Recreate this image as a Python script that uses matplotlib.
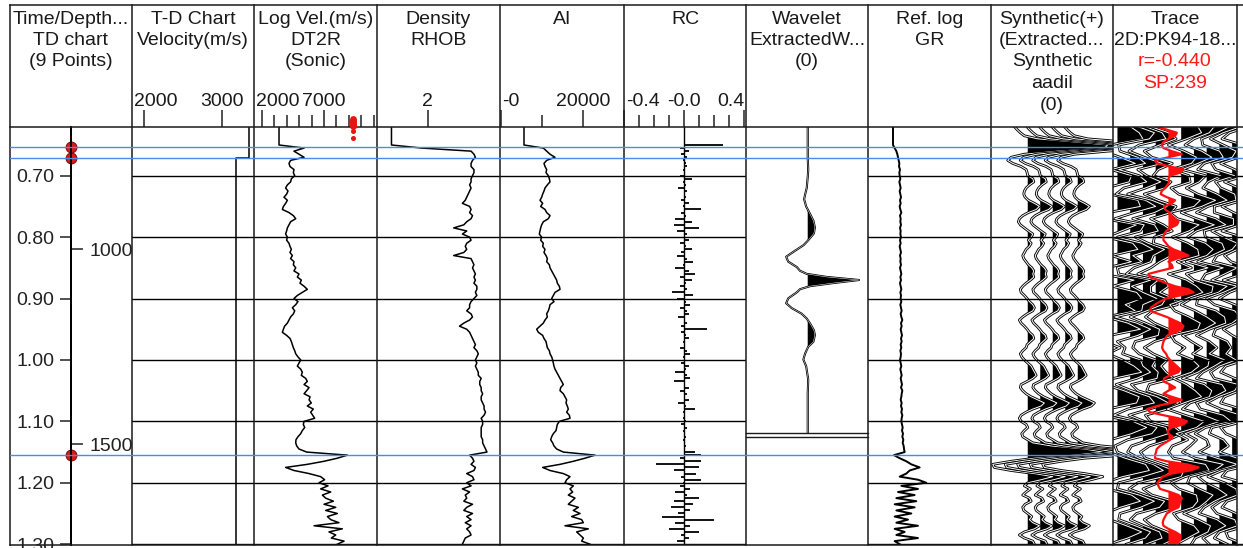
import numpy as np
import matplotlib
matplotlib.use("Agg")
import matplotlib.pyplot as plt
from matplotlib.ticker import FixedLocator

plt.rcParams['font.family'] = ['Liberation Sans', 'DejaVu Sans']
FS = 14

# ============================ DATA ============================
# log sampling grid (s)
LOG_T = np.round(np.arange(0.620, 1.3001, 0.005), 3)

SONIC_VEL = [3390, 3390, 3390, 3390, 3390, 3390, 3390, 5400, 4590, 4990,
             5400, 4320, 4190, 4270, 4590, 4540, 4650, 4380, 4320, 4060,
             3920, 4110, 4000, 3790, 4060, 3920, 3740, 3660, 4190, 4540,
             4730, 4320, 4190, 4060, 4000, 3920, 4060, 4000, 4190, 4270,
             4380, 4270, 4460, 4320, 4590, 4540, 4730, 4590, 4990, 4860,
             5180, 5070, 5400, 5660, 5260, 4860, 4590, 4910, 4730, 4460,
             4650, 4540, 4320, 4190, 4060, 3840, 3740, 3660, 4000, 4270,
             4380, 4460, 4540, 4650, 4730, 4910, 5130, 4990, 4860, 5130,
             5260, 5180, 5530, 5660, 5400, 5800, 5610, 5400, 5880, 5800,
             5980, 5660, 6140, 5930, 6090, 6250, 5400, 5340, 5450, 5260,
             5130, 4910, 4750, 4730, 4810, 4990, 5610, 8870, 8070, 7000,
             5660, 3920, 4590, 5800, 6730, 7050, 6600, 7320, 6730, 7540,
             6870, 7130, 7750, 7000, 7940, 7130, 8070, 7270, 7540, 8200,
             6200, 8470, 7400, 7940, 7590, 8610, 8070]

DENSITY = [1.75, 1.75, 1.75, 1.75, 1.75, 1.75, 1.75, 1.96, 2.30, 2.32,
           2.33, 2.31, 2.30, 2.30, 2.32, 2.32, 2.31, 2.30, 2.30, 2.29,
           2.30, 2.29, 2.28, 2.27, 2.26, 2.24, 2.29, 2.30, 2.29, 2.31,
           2.30, 2.27, 2.25, 2.18, 2.27, 2.24, 2.29, 2.30, 2.27, 2.26,
           2.27, 2.25, 2.18, 2.30, 2.31, 2.32, 2.31, 2.32, 2.33, 2.32,
           2.33, 2.32, 2.34, 2.34, 2.33, 2.34, 2.32, 2.30, 2.29, 2.29,
           2.27, 2.30, 2.31, 2.29, 2.25, 2.22, 2.27, 2.29, 2.30, 2.31,
           2.32, 2.33, 2.32, 2.34, 2.35, 2.34, 2.33, 2.34, 2.33, 2.34,
           2.35, 2.35, 2.37, 2.36, 2.36, 2.37, 2.37, 2.38, 2.37, 2.37,
           2.38, 2.39, 2.39, 2.40, 2.39, 2.37, 2.38, 2.38, 2.37, 2.37,
           2.37, 2.37, 2.38, 2.38, 2.39, 2.40, 2.41, 2.29, 2.31, 2.32,
           2.30, 2.33, 2.32, 2.27, 2.31, 2.32, 2.27, 2.30, 2.24, 2.29,
           2.26, 2.27, 2.25, 2.31, 2.27, 2.25, 2.31, 2.27, 2.30, 2.26,
           2.30, 2.27, 2.29, 2.30, 2.26, 2.25, 2.24]

AI = [5640, 5640, 5640, 5640, 5640, 5640, 5640, 10320, 11130, 11940,
      13150, 11130, 10480, 10730, 11130, 10970, 11530, 11780, 11940, 11290,
      10730, 10480, 10160, 9920, 9520, 10160, 9680, 10730, 11130, 11940,
      11530, 10320, 9920, 9680, 9520, 9350, 9920, 9680, 10320, 10160,
      10730, 10480, 10970, 11290, 11130, 11780, 11940, 12340, 12740, 13150,
      13550, 13710, 14200, 14360, 13150, 12740, 12340, 12900, 11940, 11780,
      11530, 11130, 11290, 10730, 10320, 9520, 8710, 9110, 10160, 10480,
      10970, 11130, 11290, 11780, 11940, 12340, 12580, 12740, 12900, 13150,
      13550, 13950, 14360, 14760, 15160, 14520, 14360, 15160, 15570, 15970,
      15810, 16130, 16370, 15970, 16620, 16780, 14200, 13710, 13550, 13390,
      12740, 12340, 12100, 12580, 12900, 13550, 15160, 22830, 20410, 17590,
      14360, 10160, 11940, 15160, 16780, 15970, 15570, 17590, 16780, 17420,
      16370, 17990, 17180, 16370, 18800, 17590, 19200, 17180, 19600, 20010,
      15570, 21220, 18390, 19200, 20010, 19600, 21620]

RC = [0.00, 0.00, 0.00, 0.00, 0.00, 0.00, 0.26, -0.03, 0.03, -0.02,
      0.02, -0.01, 0.01, 0.02, -0.01, 0.00, -0.03, 0.05, -0.01, 0.01,
      -0.04, 0.02, 0.00, 0.01, -0.02, 0.03, -0.01, 0.11, -0.02, 0.01,
      -0.06, 0.05, -0.07, 0.10, -0.05, 0.02, 0.00, 0.03, -0.03, 0.01,
      0.05, -0.02, -0.05, 0.02, 0.06, -0.01, -0.06, 0.03, 0.07, -0.03,
      0.05, 0.01, -0.03, 0.02, -0.08, 0.06, -0.05, 0.01, 0.04, -0.03,
      0.02, 0.03, -0.04, 0.00, 0.02, -0.02, 0.15, -0.02, 0.01, 0.03,
      -0.01, 0.00, -0.03, 0.02, 0.04, -0.01, 0.00, -0.02, 0.03, 0.01,
      -0.06, 0.02, 0.04, -0.07, 0.00, 0.03, -0.03, 0.02, 0.00, 0.03,
      -0.04, 0.01, 0.07, -0.01, 0.00, -0.01, 0.01, -0.02, 0.02, -0.01,
      0.00, 0.01, -0.01, 0.00, 0.01, 0.00, 0.07, 0.11, -0.03, 0.11,
      -0.19, 0.10, -0.07, 0.08, -0.02, 0.11, -0.01, -0.03, 0.04, -0.06,
      0.02, 0.10, -0.07, 0.06, -0.09, 0.04, -0.04, -0.15, 0.20, -0.06,
      0.04, -0.10, 0.10, -0.02, 0.03, -0.05, 0.00]

GR = [75, 75, 75, 75, 75, 75, 75, 80, 85, 88,
      90, 92, 94, 93, 96, 94, 95, 97, 94, 96,
      98, 95, 97, 99, 96, 98, 95, 97, 100, 96,
      98, 97, 99, 96, 98, 97, 99, 96, 98, 95,
      97, 99, 96, 98, 97, 99, 96, 98, 100, 97,
      99, 96, 98, 100, 97, 99, 98, 100, 97, 99,
      101, 98, 100, 103, 99, 101, 98, 100, 102, 99,
      101, 98, 100, 97, 99, 98, 96, 98, 100, 97,
      99, 101, 98, 100, 102, 99, 103, 101, 100, 98,
      101, 99, 102, 100, 103, 101, 100, 102, 104, 102,
      105, 103, 106, 104, 107, 108, 110, 78, 95, 115,
      130, 155, 125, 115, 95, 150, 175, 100, 150, 90,
      140, 85, 145, 80, 140, 85, 130, 80, 120, 85,
      150, 80, 110, 85, 150, 80, 95]

SYNTH = [-1.07, -0.85, -0.59, -0.27, 0.80, 3.73, 6.40, 6.13, 2.40, -0.27,
         -1.33, -1.60, -1.20, -0.53, -0.13, -0.05, 0.00, 0.40, 0.48, 0.13,
         -0.13, -0.27, -0.32, -0.21, 0.05, 0.53, 0.93, 0.67, 0.05, -0.40,
         -0.67, -0.75, -0.59, -0.27, 0.05, 0.40, 0.27, 0.05, 0.27, 0.13,
         -0.13, -0.27, -0.40, -0.32, -0.13, 0.05, 0.32, 0.48, 0.40, 0.48,
         0.21, -0.13, -0.40, -0.59, -0.53, -0.27, -0.05, 0.13, 0.40, 0.53,
         0.40, -0.05, -0.40, -0.67, -0.53, -0.27, -0.05, 0.13, 0.40, 0.48,
         0.21, -0.05, -0.13, -0.40, -0.59, -0.48, -0.27, 0.00, 0.27, 0.40,
         0.53, 0.67, 0.40, -0.05, -0.53, -0.59, -0.40, -0.13, 0.27, 0.80,
         1.33, 1.07, 0.40, -0.13, -0.53, -0.67, -0.53, -0.13, 0.00, -0.27,
         -0.48, -0.40, 0.00, 0.40, 1.87, 4.53, 6.00, 3.73, 0.53, -1.33,
         -2.80, -2.67, -1.33, 0.53, 2.00, 1.07, 0.00, -0.27, 0.21, -0.13,
         -0.40, 0.13, 0.27, -0.21, -0.40, -0.32, 0.00, 0.32, 0.13, 0.40,
         0.93, 0.53, -0.27, -0.67, -0.27, 0.40, 0.53]
SYNTH_COPIES = 5

RED_TRACE = [-0.92, -0.13, 0.66, 0.53, 0.00, -0.39, -0.53, -0.39, 0.26, 1.05,
             0.00, -1.05, -0.92, 0.13, 1.18, 0.92, 0.13, 0.00, 0.08, -0.08,
             -0.26, -0.53, -0.61, -0.13, 0.53, 0.26, -0.34, -0.26, 0.08, 0.26,
             0.53, 0.79, 0.66, 0.18, -0.18, -0.34, -0.39, -0.39, -0.18, 0.00,
             0.39, 1.05, 1.58, 0.66, 0.00, 0.26, 0.34, -0.66, -1.58, -1.45,
             -0.79, -0.18, 0.53, 1.58, 1.97, 0.92, -0.18, -0.66, -1.05, -1.39,
             -1.45, -0.79, -0.13, 0.39, 0.92, 1.18, 1.05, 0.53, -0.08, -0.26,
             -0.39, -0.45, -0.50, -0.39, -0.18, -0.08, 0.13, 0.39, 0.66, 0.92,
             0.79, 0.13, -0.34, -0.39, 0.13, 0.53, 0.00, -0.39, 0.26, 1.05,
             0.26, -0.92, -1.66, -1.45, -0.39, 0.79, 1.45, 1.18, 0.26, -0.08,
             0.00, 0.34, 0.13, -0.26, -0.66, -0.92, -0.97, -1.05, -1.05, -0.13,
             1.45, 2.37, 1.71, 0.26, -0.45, -0.66, -0.87, -0.79, -0.66, 0.13,
             0.79, 1.05, 0.92, 0.87, 0.79, 0.26, -0.13, -0.26, -0.39, -0.45,
             -0.39, 0.00, 0.53, 0.92, 0.92, 0.87, 0.66]
RED_INDEX = 4

# neighbouring seismic traces, 10 ms samples
SEIS_T = np.round(np.arange(0.62, 1.3001, 0.01), 2)
SEIS_L4 = [1.0, 1.7, 2.0, -0.6, -1.1, 0.2, 1.4, -0.5, 1.1, 0.9,
           -0.9, -0.6, 1.6, 1.8, -0.7, -1.0, 1.5, 0.3, -0.9, 1.2,
           1.6, -0.5, 1.1, -0.8, -1.2, 1.3, -0.4, 1.5, 1.9, 0.6,
           1.4, -0.9, 0.8, 1.8, -0.6, -1.1, 0.2, -0.8, 0.4, 1.3,
           1.9, -0.3, -1.0, 0.5, 1.7, 1.5, -0.8, -1.2, 1.2, 2.3,
           1.1, -0.6, -1.3, -0.7, 0.6, 2.2, 2.5, 0.4, -1.1, -0.8,
           1.1, 1.8, 0.2, -1.0, -0.6, 0.7, 1.9, 0.8, -0.7]
SEIS_L3 = [0.6, 1.9, 1.5, -0.9, -0.8, 0.6, 1.2, -0.9, 0.7, 1.3,
           -0.5, -1.1, 1.2, 2.0, 0.3, -1.2, 1.1, 0.8, -1.0, 0.9,
           1.8, 0.2, 0.9, -1.0, -0.9, 1.6, 0.1, 1.0, 2.1, 1.0,
           0.9, -1.2, 0.5, 1.6, 0.6, -1.0, -0.4, -0.6, 0.8, 1.0,
           1.6, 0.5, -1.1, 0.1, 1.5, 1.9, -0.2, -1.3, 0.7, 2.1,
           1.7, -0.2, -1.2, -1.0, 0.2, 1.8, 2.6, 1.0, -0.9, -1.0,
           0.7, 1.9, 0.8, -0.8, -0.9, 0.4, 1.6, 1.2, -0.3]
SEIS_L2 = [0.2, 1.5, 1.8, -0.3, -1.1, 0.1, 1.5, -0.4, 0.3, 1.4,
           0.2, -1.2, 0.7, 1.9, 0.9, -0.8, 0.9, 1.2, -0.6, 0.4,
           1.7, 0.8, 0.6, -0.7, -1.3, 1.2, 0.6, 0.6, 1.8, 1.5,
           0.3, -1.0, 0.2, 1.3, 1.2, -0.6, -0.8, -0.3, 1.0, 0.7,
           1.2, 1.1, -0.9, -0.4, 1.1, 2.0, 0.5, -1.1, 0.1, 1.8,
           2.0, 0.5, -0.9, -1.2, -0.3, 1.2, 2.4, 1.6, -0.4, -1.1,
           0.2, 1.7, 1.3, -0.5, -1.0, 0.1, 1.3, 1.5, 0.2]
SEIS_L1 = [-0.4, 1.0, 1.6, 0.3, -0.9, -0.3, 1.3, 0.2, -0.2, 1.2,
           0.7, -0.9, 0.2, 1.6, 1.2, -0.4, 0.6, 1.3, -0.1, -0.2,
           1.3, 1.2, 0.3, -0.4, -1.4, 0.7, 1.0, 0.3, 1.4, 1.7,
           -0.2, -0.8, -0.1, 1.0, 1.5, -0.1, -0.9, -0.2, 0.9, 0.4,
           0.8, 1.4, -0.5, -0.7, 0.7, 1.8, 0.9, -0.8, -0.4, 1.5,
           2.1, 1.0, -0.5, -1.2, -0.8, 0.6, 2.2, 2.0, 0.2, -1.0,
           -0.3, 1.4, 1.6, 0.0, -0.9, -0.3, 0.9, 1.6, 0.6]
SEIS_R1 = [1.3, 1.6, 0.4, -1.0, 0.2, 1.2, 0.8, -0.8, 0.6, 0.7,
           -0.8, -0.2, 1.5, 1.0, -0.9, -0.3, 1.4, 0.6, -0.7, 0.5,
           1.3, 1.4, -0.3, 0.8, -1.0, 0.4, 1.2, 1.7, 0.4, -0.9,
           -0.5, 0.6, 1.5, 1.3, -0.8, -0.5, 0.3, -0.3, 0.9, 1.4,
           0.8, -0.6, 0.4, 1.1, 1.6, 0.2, -1.1, 0.3, 1.8, 1.2,
           -0.4, 0.5, -0.7, -1.0, -0.6, 1.9, 2.2, 0.3, -0.8, -0.2,
           1.2, 1.3, 0.9, -0.6, -0.2, 1.0, 1.4, 0.5, -0.4]
SEIS_R2 = [1.6, 1.2, 0.0, -0.7, 0.6, 1.4, 0.3, -0.9, 0.9, 0.4,
           -0.6, 0.3, 1.7, 0.6, -1.0, 0.2, 1.6, 0.2, -0.5, 0.9,
           1.5, 1.0, -0.6, 1.1, -0.6, 0.0, 1.5, 1.4, -0.2, -1.0,
           0.1, 1.0, 1.7, 0.8, -0.9, -0.2, 0.6, -0.1, 1.2, 1.1,
           0.3, -0.9, 0.8, 1.4, 1.2, -0.3, -0.9, 0.8, 2.0, 0.6,
           -0.7, 0.2, -0.3, -0.9, 0.1, 2.3, 1.6, -0.3, -0.5, 0.4,
           1.5, 1.0, 0.4, -0.8, 0.3, 1.3, 1.1, 0.1, -0.2]
SEIS_R3 = [1.8, 0.8, -0.4, -0.3, 1.0, 1.3, -0.2, -0.7, 1.1, 0.1,
           -0.3, 0.8, 1.6, 0.1, -0.8, 0.7, 1.5, -0.2, -0.1, 1.2,
           1.4, 0.4, -0.7, 1.3, -0.1, -0.4, 1.6, 0.9, -0.7, -0.8,
           0.7, 1.4, 1.5, 0.2, -0.8, 0.2, 0.8, 0.2, 1.4, 0.6,
           -0.3, -0.8, 1.2, 1.5, 0.6, -0.8, -0.5, 1.3, 1.9, -0.1,
           -0.9, 0.0, 0.2, -0.6, 0.8, 2.4, 0.9, -0.7, -0.1, 0.9,
           1.6, 0.6, -0.2, -0.6, 0.8, 1.5, 0.6, -0.3, 0.2]
SEIS_R4 = [1.7, 0.3, -0.7, 0.3, 1.3, 1.0, -0.6, -0.3, 1.2, -0.3,
           0.1, 1.2, 1.3, -0.4, -0.4, 1.1, 1.1, -0.6, 0.3, 1.4,
           1.0, -0.2, -0.5, 1.4, 0.4, -0.6, 1.4, 0.3, -1.0, -0.4,
           1.2, 1.6, 1.0, -0.3, -0.5, 0.6, 0.9, 0.5, 1.3, 0.0,
           -0.7, -0.4, 1.5, 1.2, -0.1, -1.0, 0.1, 1.7, 1.5, -0.6,
           -0.8, 0.3, 0.7, 0.0, 1.4, 2.2, 0.2, -0.9, 0.4, 1.3,
           1.4, 0.1, -0.6, -0.2, 1.2, 1.4, 0.0, -0.4, 0.6]
SEIS_R5 = [1.3, -0.2, -0.8, 0.8, 1.5, 0.5, -0.9, 0.2, 1.1, -0.6,
           0.5, 1.4, 0.8, -0.8, 0.1, 1.4, 0.6, -0.8, 0.8, 1.3,
           0.4, -0.6, -0.1, 1.3, 0.8, -0.7, 1.0, -0.2, -1.0, 0.2,
           1.5, 1.5, 0.3, -0.7, 0.0, 0.9, 0.8, 0.8, 1.0, -0.5,
           -0.9, 0.2, 1.6, 0.6, -0.6, -0.9, 0.7, 1.8, 0.9, -0.9,
           -0.5, 0.6, 1.1, 0.6, 1.8, 1.6, -0.4, -0.8, 0.9, 1.5,
           1.0, -0.4, -0.8, 0.3, 1.5, 1.1, -0.5, -0.3, 0.9]
SEIS_TRACES = {0: SEIS_L4, 1: SEIS_L3, 2: SEIS_L2, 3: SEIS_L1,
               5: SEIS_R1, 6: SEIS_R2, 7: SEIS_R3, 8: SEIS_R4, 9: SEIS_R5}

# extracted wavelet (ms, normalised amplitude)
WAVELET_MS = [-250, -200, -180, -168, -150, -140, -132, -120, -108, -97, -86,
              -76, -65, -57, -46, -38, -30, -21, -15, -10, -5, 0, 5, 10, 15,
              20, 30, 38, 46, 55, 63, 71, 82, 90, 101, 109, 120, 130, 141,
              163, 185, 212, 250]
WAVELET_AMP = [0.0, 0.0, 0.01, 0.0, -0.02, -0.05, -0.07, -0.03, 0.045, 0.11,
               0.14, 0.12, 0.01, -0.08, -0.28, -0.42, -0.38, -0.21, -0.15,
               -0.02, 0.37, 1.0, 0.5, 0.05, -0.15, -0.21, -0.38, -0.42, -0.31,
               -0.12, -0.02, 0.045, 0.12, 0.14, 0.11, 0.01, -0.05, -0.085,
               -0.03, 0.01, 0.0, 0.0, 0.0]

# time-depth chart
TD_TIMES = [0.6533, 0.6712, 1.1554]
TD_VEL_EDGES = [0.60, 0.6712, 1.32]
TD_VEL = [3346, 3179]
DEPTH_TICK_T = [0.8199, 1.1370]
DEPTH_TICK_LBL = ['1000', '1500']
TIME_TICKS = [0.70, 0.80, 0.90, 1.00, 1.10, 1.20, 1.30]
TIME_LABELS = ['0.70', '0.80', '0.90', '1.00', '1.10', '1.20', '1.30']

HEADERS = [["Time/Depth...", "TD chart", "(9 Points)"],
           ["T-D Chart", "Velocity(m/s)"],
           ["Log Vel.(m/s)", "DT2R", "(Sonic)"],
           ["Density", "RHOB"],
           ["AI"],
           ["RC"],
           ["Wavelet", "ExtractedW...", "(0)"],
           ["Ref. log", "GR"],
           ["Synthetic(+)", "(Extracted...", "Synthetic", "aadil", "(0)"],
           ["Trace", "2D:PK94-18...", "r=-0.440", "SP:239"]]
RED_HEADER = {(9, 2), (9, 3)}

# header scales: col -> (xlim, major ticks, labels, minor ticks)
SCALES = {1: ((1846, 3410), [2000, 3000], ['2000', '3000'], []),
          2: ((1382, 11253), [2000, 7000], ['2000', '7000'],
              [3000, 4000, 5000, 6000, 8000, 9000, 10000, 11000]),
          3: ((1.65, 2.50), [2.0], ['2'], []),
          4: ((-170, 29855), [0, 20000], ['-0', '20000'], [10000]),
          5: ((-0.4, 0.4133), [-0.4, 0.0, 0.4], ['-0.4', '-0.0', '0.4'],
              [-0.3, -0.2, -0.1, 0.1, 0.2, 0.3])}

for arr in (SONIC_VEL, DENSITY, AI, RC, GR, SYNTH, RED_TRACE):
    assert len(arr) == len(LOG_T), len(arr)
for arr in SEIS_TRACES.values():
    assert len(arr) == len(SEIS_T), len(arr)

# ============================ LAYOUT ============================
W, H = 1243, 548
COL_X = [10, 132, 254, 377, 500, 624, 746, 868, 991, 1113, 1237, 1243]
Y_TOP, Y_HDR, Y_BOT = 4.5, 127.0, 544.5
T_TOP, T_BOT = 0.6207, 1.3005
LINE_C = '#1a1a1a'
BLUE = '#4a8be6'

fig = plt.figure(figsize=(W / 100, H / 100), dpi=100)


def px_axes(x0, x1, y0, y1, **kw):
    return fig.add_axes([x0 / W, 1 - y1 / H, (x1 - x0) / W, (y1 - y0) / H], **kw)


def track(i, grid=True):
    ax = px_axes(COL_X[i], COL_X[i + 1], Y_HDR, Y_BOT)
    ax.set_ylim(T_BOT, T_TOP)
    for s in ax.spines.values():
        s.set_visible(False)
    ax.patch.set_visible(False)
    ax.yaxis.set_major_locator(FixedLocator(TIME_TICKS))
    ax.tick_params(axis='y', which='both', length=0, labelleft=False)
    ax.tick_params(axis='x', which='both', bottom=False, labelbottom=False,
                   top=False, labeltop=False)
    if grid:
        ax.set_axisbelow(False)
        ax.grid(axis='y', color='black', lw=1.0)
    return ax


def wiggle(ax, t, amp, base, lw_out=2.0, lw_in=0.7):
    x = base + np.asarray(amp, dtype=float)
    ax.fill_betweenx(t, base, x, where=x > base, interpolate=True,
                     color='black', lw=0)
    ax.plot(x, t, color='black', lw=lw_out, solid_joinstyle='round')
    if lw_in > 0:
        ax.plot(x, t, color='white', lw=lw_in, solid_joinstyle='round')


# ---- column 1 : time / depth axis
ax1 = px_axes(COL_X[0], COL_X[1], Y_HDR, Y_BOT)
ax1.set_xlim(0, 1)
ax1.set_ylim(T_BOT, T_TOP)
ax1.patch.set_visible(False)
for k, s in ax1.spines.items():
    s.set_visible(k == 'left')
ax1.spines['left'].set_position(('data', 0.5))
ax1.spines['left'].set_linewidth(1.4)
ax1.set_xticks([])
ax1.set_yticks(TIME_TICKS, labels=TIME_LABELS)
ax1.tick_params(axis='y', direction='out', length=8.2, width=1.1, pad=4.0,
                labelsize=FS, colors='#222222')
tw = ax1.twinx()
tw.set_ylim(T_BOT, T_TOP)
for k, s in tw.spines.items():
    s.set_visible(k == 'right')
tw.spines['right'].set_position(('data', 0.5))
tw.spines['right'].set_linewidth(1.4)
tw.set_yticks(DEPTH_TICK_T, labels=DEPTH_TICK_LBL)
tw.tick_params(axis='y', direction='out', length=8.5, width=1.1, pad=4.5,
               labelsize=FS, colors='#222222')
ax1.scatter([0.5] * len(TD_TIMES), TD_TIMES, s=60, color='#e01818',
            edgecolor='#8a0c0c', lw=0.8, zorder=5, clip_on=False)

# ---- data tracks
axes = {}
for i in range(1, 11):
    axes[i] = track(i, grid=(i != 6))
for i, (xl, maj, lab, mnr) in SCALES.items():
    ax = axes[i]
    ax.set_xlim(*xl)
    ax.xaxis.set_major_locator(FixedLocator(maj))
    ax.xaxis.set_minor_locator(FixedLocator(mnr))
    ax.tick_params(axis='x', which='both', top=True, direction='out',
                   labeltop=False, width=1.1, color='#222222')
    ax.tick_params(axis='x', which='major', length=12.2)
    ax.tick_params(axis='x', which='minor', length=8.6)

# T-D interval velocity
vx = np.repeat(TD_VEL, 2)
vy = np.repeat(TD_VEL_EDGES, 2)[1:-1]
axes[1].plot(vx, vy, color='black', lw=1.1)
# logs
axes[2].plot(SONIC_VEL, LOG_T, color='black', lw=1.1)
axes[3].plot(DENSITY, LOG_T, color='black', lw=1.1)
axes[4].plot(AI, LOG_T, color='black', lw=1.1)
# reflection coefficients as spikes off a zero line
axes[5].axvline(0.0, color='black', lw=1.0)
axes[5].hlines(LOG_T, 0.0, RC, color='black', lw=1.3)
axes[7].set_xlim(0, 369)
axes[7].plot(GR, LOG_T, color='black', lw=1.4)

# wavelet
axw = px_axes(COL_X[6], COL_X[7], Y_HDR, 433)
axw.set_xlim(-1.203, 1.175)
axw.set_ylim(250, -250)
axw.axis('off')
wiggle(axw, WAVELET_MS, WAVELET_AMP, 0.0, lw_out=1.5, lw_in=0.35)

# synthetic
axs = axes[8]
axs.set_xlim(-2.94, 6.82)
for k in range(SYNTH_COPIES):
    wiggle(axs, LOG_T, SYNTH, k, lw_out=2.0, lw_in=0.7)

# seismic trace
axt = axes[9]
axt.set_xlim(-0.35, 9.38)
for k in sorted(SEIS_TRACES):
    wiggle(axt, SEIS_T, SEIS_TRACES[k], k, lw_out=2.0, lw_in=0.7)
red_x = RED_INDEX + np.asarray(RED_TRACE)
axt.fill_betweenx(LOG_T, RED_INDEX, red_x, where=red_x > RED_INDEX,
                  interpolate=True, color='#ff1010', lw=0, zorder=3)
axt.plot(red_x, LOG_T, color='#ff1010', lw=1.6, zorder=3)

# ---- blue tie lines across all tracks
axb = px_axes(COL_X[0], W, Y_HDR, Y_BOT, zorder=6)
axb.set_ylim(T_BOT, T_TOP)
axb.axis('off')
for t in TD_TIMES:
    axb.axhline(t, color=BLUE, lw=1.0)

# ---- pixel overlay : frame, headers
axp = fig.add_axes([0, 0, 1, 1], zorder=5)
axp.set_xlim(0, W)
axp.set_ylim(H, 0)
axp.axis('off')
for yy in (Y_TOP, Y_HDR, Y_BOT):
    axp.plot([COL_X[0], W], [yy, yy], color=LINE_C, lw=1.1)
for xx in COL_X[:-1]:
    axp.plot([xx, xx], [Y_TOP, Y_BOT], color=LINE_C, lw=1.1)
# wavelet box bottom double line
axp.plot([COL_X[6], COL_X[7]], [433, 433], color=LINE_C, lw=1.0)
axp.plot([COL_X[6], COL_X[7]], [437, 437], color=LINE_C, lw=1.0)
# red handle in sonic header
axp.plot([353.5, 353.5], [118.5, 126], color='#e81414', lw=5,
         solid_capstyle='round')
axp.plot([353.5, 353.5], [131, 137.5], 'o', color='#e81414', ms=2.6)

BASE0, LSTEP = 23.5, 21.5
for i, lines in enumerate(HEADERS):
    cx = (COL_X[i] + COL_X[i + 1]) / 2
    for j, s in enumerate(lines):
        axp.text(cx, BASE0 + j * LSTEP, s, ha='center', va='baseline',
                 fontsize=FS, color='#ff1a1a' if (i, j) in RED_HEADER else '#1a1a1a')

# header scale labels (centred on tick, kept inside their column)
scale_texts = []
for i, (xl, maj, lab, mnr) in SCALES.items():
    ax = axes[i]
    for v, s in zip(maj, lab):
        xd = ax.transData.transform((v, T_TOP))[0]
        t = axp.text(xd, 106, s, ha='center', va='baseline', fontsize=FS,
                     color='#1a1a1a')
        scale_texts.append((t, COL_X[i], COL_X[i + 1]))

fig.canvas.draw()
r = fig.canvas.get_renderer()
for t, x0, x1 in scale_texts:
    bb = t.get_window_extent(r)
    dx = 0.0
    if bb.x0 < x0 + 2:
        dx = x0 + 2 - bb.x0
    elif bb.x1 > x1 - 1:
        dx = x1 - 1 - bb.x1
    t.set_x(t.get_position()[0] + dx)

fig.savefig('out.png', dpi=100)
